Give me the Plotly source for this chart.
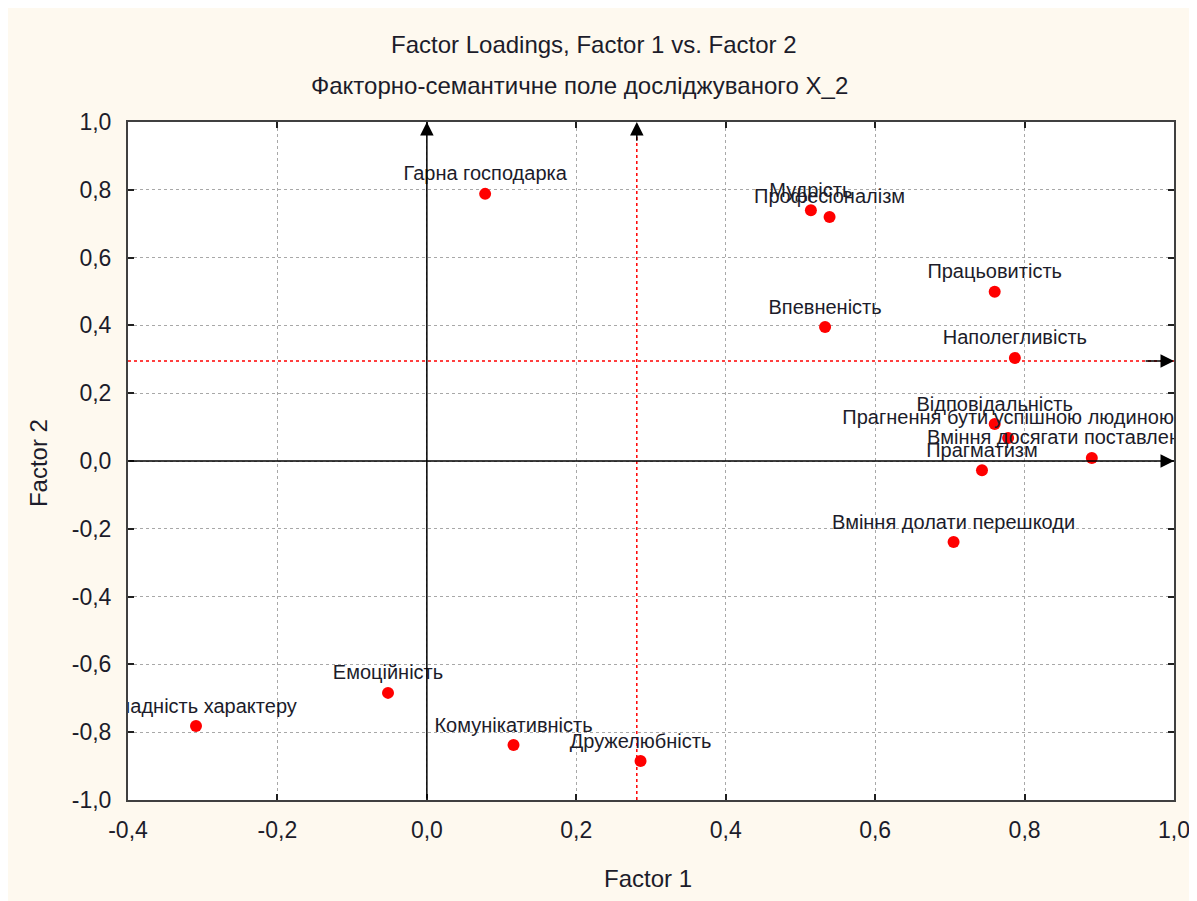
import plotly.graph_objects as go

# ---- data ----
labels = [
    "Гарна господарка", "Мудрість", "Професіоналізм", "Працьовитість",
    "Впевненість", "Наполегливість", "Відповідальність",
    "Прагнення бути успішною людиною", "Вміння досягати поставлених цілей",
    "Прагматизм", "Вміння долати перешкоди", "Емоційність",
    "Складність характеру", "Комунікативність", "Дружелюбність",
]
factor1 = [0.078, 0.514, 0.539, 0.760, 0.533, 0.787, 0.760, 0.778, 0.890,
           0.743, 0.705, -0.052, -0.309, 0.116, 0.286]
factor2 = [0.788, 0.740, 0.720, 0.499, 0.395, 0.304, 0.109, 0.068, 0.009,
           -0.027, -0.239, -0.684, -0.782, -0.838, -0.885]
ref_x = 0.281   # red dotted vertical reference line
ref_y = 0.295   # red dotted horizontal reference line
x_range = [-0.4, 1.0]
y_range = [-1.0, 1.0]
x_ticks = [-0.4, -0.2, 0.0, 0.2, 0.4, 0.6, 0.8, 1.0]
y_ticks = [-1.0, -0.8, -0.6, -0.4, -0.2, 0.0, 0.2, 0.4, 0.6, 0.8, 1.0]


def tick_text(vals):
    return [f"{v:.1f}".replace(".", ",") for v in vals]


FONT = "Liberation Sans, Arial, sans-serif"
TXT = "#1c1c2a"

fig = go.Figure()
fig.add_trace(go.Scatter(
    x=factor1, y=factor2, mode="markers+text", text=labels,
    textposition="top center", cliponaxis=True,
    marker=dict(color="#ff0000", size=12, line=dict(width=0)),
    textfont=dict(family=FONT, size=20, color=TXT),
    showlegend=False, hoverinfo="skip",
))

shapes = [
    dict(type="line", xref="x", yref="y", x0=ref_x, x1=ref_x, y0=y_range[0], y1=y_range[1],
         line=dict(color="#ff0000", width=1.5, dash="dot"), layer="below"),
    dict(type="line", xref="x", yref="y", x0=x_range[0], x1=x_range[1], y0=ref_y, y1=ref_y,
         line=dict(color="#ff0000", width=1.5, dash="dot"), layer="below"),
]

annotations = []
arrow_style = dict(text="", showarrow=True, arrowhead=2, arrowsize=1.8,
                   arrowwidth=1.5, arrowcolor="black", xref="x", yref="y",
                   axref="x", ayref="y")
annotations.append(dict(x=0, y=y_range[1], ax=0, ay=y_range[0], **arrow_style))
annotations.append(dict(x=x_range[1], y=0, ax=x_range[0], ay=0, **arrow_style))
annotations.append(dict(x=ref_x, y=y_range[1], ax=ref_x, ay=y_range[1] - 0.06, **arrow_style))
annotations.append(dict(x=x_range[1], y=ref_y, ax=x_range[1] - 0.04, ay=ref_y, **arrow_style))

txt_style = dict(xref="paper", yref="paper", showarrow=False,
                 xanchor="center", yanchor="middle")
annotations.append(dict(text="Factor Loadings, Factor 1 vs. Factor 2",
                        x=0.4455, y=1 + (114 - 36) / 678,
                        font=dict(family=FONT, size=24, color=TXT), **txt_style))
annotations.append(dict(text="Факторно-семантичне поле досліджуваного Х_2",
                        x=0.432, y=1 + (114 - 78) / 678,
                        font=dict(family=FONT, size=24, color=TXT), **txt_style))
annotations.append(dict(text="Factor 1", x=0.497, y=-(870 - 792) / 678,
                        font=dict(family=FONT, size=24, color=TXT), **txt_style))
annotations.append(dict(text="Factor 2", x=-0.086, y=0.497, textangle=-90,
                        font=dict(family=FONT, size=24, color=TXT), **txt_style))

axis_common = dict(
    showgrid=True, gridcolor="#a8a8a8", griddash="dot", gridwidth=1,
    zeroline=False, showline=True, linecolor="#404040", linewidth=2, mirror="ticks",
    ticks="inside", ticklen=6, tickcolor="#202020", tickwidth=2,
    tickfont=dict(family=FONT, size=23, color=TXT),
)

fig.update_layout(
    width=1197, height=901,
    margin=dict(l=120, r=31, t=114, b=109),
    paper_bgcolor="#fef9ef", plot_bgcolor="white",
    shapes=shapes, annotations=annotations,
    xaxis=dict(range=x_range, tickvals=x_ticks, ticktext=tick_text(x_ticks),
               ticklabelstandoff=8, **axis_common),
    yaxis=dict(range=y_range, tickvals=y_ticks, ticktext=tick_text(y_ticks),
               ticklabelstandoff=10, **axis_common),
)

fig.write_html("out.html")
